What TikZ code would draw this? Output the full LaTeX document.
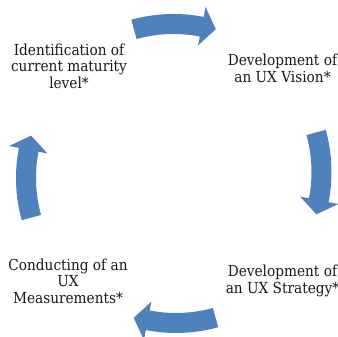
\documentclass[tikz,border=0pt]{standalone}
\usepackage{fontspec}
\setmainfont{DejaVu Serif Condensed}
\definecolor{cycleblue}{HTML}{4F81BD}
\tikzset{
  steplabel/.style={align=center, text=black!90, inner sep=0pt,
    font=\fontsize{15.2}{16.5}\selectfont},
  cyclearrow/.style={fill=cycleblue, draw=none}
}
% curved block arrow running clockwise round a circle centred at (#1,#2);
% #3 is the angle of the arrow's middle
\newcommand\cyclearrowat[3]{%
  \fill[cyclearrow, shift={(#1,{337-#2})}]
    ({#3+15.5}:158pt) arc[start angle={#3+15.5}, end angle={#3-11}, radius=158pt]
    -- ({#3-11}:168pt) -- ({#3-16.5}:149pt) -- ({#3-11}:129pt)
    -- ({#3-11}:138pt) arc[start angle={#3-11}, end angle={#3+15.5}, radius=138pt]
    -- cycle;}
\begin{document}
\begin{tikzpicture}[x=1pt,y=1pt]
  \useasboundingbox[fill=white] (0,0) rectangle (338,337);
  % the four arrows of the cycle
  \cyclearrowat{173.5}{172}{90}
  \cyclearrowat{173.5}{172}{0}
  \cyclearrowat{176}{175}{-90}
  \cyclearrowat{174}{178}{180}
  % the four steps
  \node[steplabel] (ident) at (69,{337-66}) {Identification of\\current maturity\\level*};
  \node[steplabel] (vision) at (282.5,{337-68.5}) {Development of\\an UX Vision*};
  \node[steplabel] (strategy) at (282.5,{337-281}) {Development of\\an UX Strategy*};
  \node[steplabel] (measure) at (68,{337-281}) {Conducting of an\\UX\\Measurements*};
\end{tikzpicture}
\end{document}
